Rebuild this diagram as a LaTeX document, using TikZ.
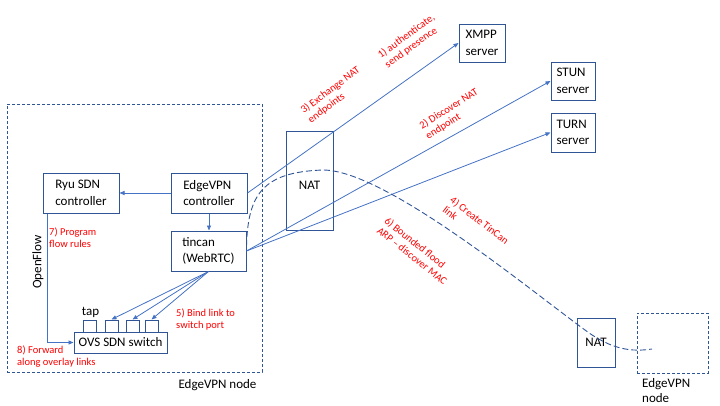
\documentclass[tikz,border=0pt]{standalone}
\usepackage{fontspec}
\setmainfont{Carlito}
\usetikzlibrary{arrows.meta}
\definecolor{boxblue}{HTML}{2F5597}
\definecolor{lineblue}{HTML}{4472C4}
\definecolor{redtxt}{HTML}{FF0000}
\begin{document}
\begin{tikzpicture}[x=1pt,y=-1pt,
  box/.style={draw=boxblue, line width=1pt, inner sep=0pt, align=left, font=\fontsize{13}{16.5}\selectfont},
  port/.style={draw=boxblue, line width=1pt, inner sep=0pt, minimum width=13pt, minimum height=12pt},
  arr/.style={draw=lineblue, line width=0.8pt, -{Triangle[length=5pt,width=4pt]}},
  redlbl/.style={text=redtxt, align=left, inner sep=0pt, font=\fontsize{10.5}{12}\selectfont},
  blk/.style={inner sep=0pt, align=left, font=\fontsize{13}{15}\selectfont},
  dashbox/.style={draw=boxblue, line width=0.9pt, dash pattern=on 3pt off 2pt, inner sep=0pt},
  tclink/.style={draw=boxblue, line width=0.9pt, dash pattern=on 6pt off 3pt}
]
\useasboundingbox (0,0) rectangle (720,405);

% dashed EdgeVPN node boxes
\node[dashbox, minimum width=255pt, minimum height=268pt] (local) at (134.5,238) {};
\node[dashbox, minimum width=71pt, minimum height=60pt] (remote) at (672.5,343) {};

% boxes
\node[box, minimum width=76pt, minimum height=40pt] (ryu) at (81,193) {Ryu SDN\\controller};
\node[box, minimum width=76pt, minimum height=40pt] (evc) at (209,193) {EdgeVPN\\controller};
\node[box, minimum width=75pt, minimum height=40pt] (tincan) at (208.5,251) {tincan\\(WebRTC)};
\node[box, minimum width=93pt, minimum height=21pt] (ovs) at (120.5,342.5) {OVS SDN switch};
\node[port] (p1) at (90,326) {};
\node[port] (p2) at (111.5,326) {};
\node[port] (p3) at (132.5,326) {};
\node[port] (p4) at (151.5,326) {};
\node[box, minimum width=47pt, minimum height=99pt] (nat1) at (309.5,180.5) {};
\node[blk] (nat1lbl) at (309.5,185) {NAT};
\node[box, minimum width=46pt, minimum height=38pt] (xmpp) at (482,43) {XMPP\\server};
\node[box, minimum width=44pt, minimum height=38pt] (stun) at (573,81) {STUN\\server};
\node[box, minimum width=44pt, minimum height=39pt] (turn) at (573,132.5) {TURN\\server};
\node[box, minimum width=38pt, minimum height=49pt] (nat2) at (596,342.5) {NAT};

% black labels
\node[blk] (taplbl) at (90.5,312) {tap};
\node[blk, rotate=90] (oflbl) at (38,262) {OpenFlow};
\node[blk] (locallbl) at (217.5,385) {EdgeVPN node};
\node[blk, anchor=west] (remotelbl) at (642,390.5) {EdgeVPN\\node};

% connectors
\draw[arr] (evc.west) -- (ryu.east);
\draw[arr] (evc.south) -- (evc.south |- tincan.north);
\draw[arr] ([xshift=5pt]ryu.south west) |- (ovs.west);
\draw[arr] (tincan.south) -- (p2.north);
\draw[arr] (tincan.south) -- (p3.north);
\draw[arr] (tincan.south) -- (p4.north);
\draw[arr] (evc.east) -- (xmpp.west);
\draw[arr] (tincan.east) -- (stun.west);
\draw[arr] (tincan.east) -- (turn.west);

% TinCan link
\coordinate (linkend) at (652,349);
\draw[tclink] ([yshift=5pt]tincan.east) .. controls (248,195) and (262,172) .. (323,170)
  .. controls (385,170) and (530,290) .. (585,330)
  .. controls (612,350) and (632,352) .. (linkend);

% red labels
\node[redlbl, anchor=west] (l7) at (49,237.5) {7) Program\\flow rules};
\node[redlbl, anchor=west] (l5) at (176,319.5) {5) Bind link to\\switch port};
\node[redlbl, anchor=west] (l8) at (17,356.5) {8) Forward\\along overlay links};
\node[redlbl, rotate=36] (l1) at (410,41) {1) authenticate,\\send presence};
\node[redlbl, rotate=36.5] (l3) at (334,95) {3) Exchange NAT\\endpoints};
\node[redlbl, rotate=32] (l2) at (452,114) {2) Discover NAT\\endpoint};
\node[redlbl, rotate=-37.5] (l4) at (476,225) {4) Create TinCan\\link};
\node[redlbl, rotate=-38.5] (l6) at (416,251) {6) Bounded flood\\ARP – discover MAC};
\end{tikzpicture}
\end{document}
